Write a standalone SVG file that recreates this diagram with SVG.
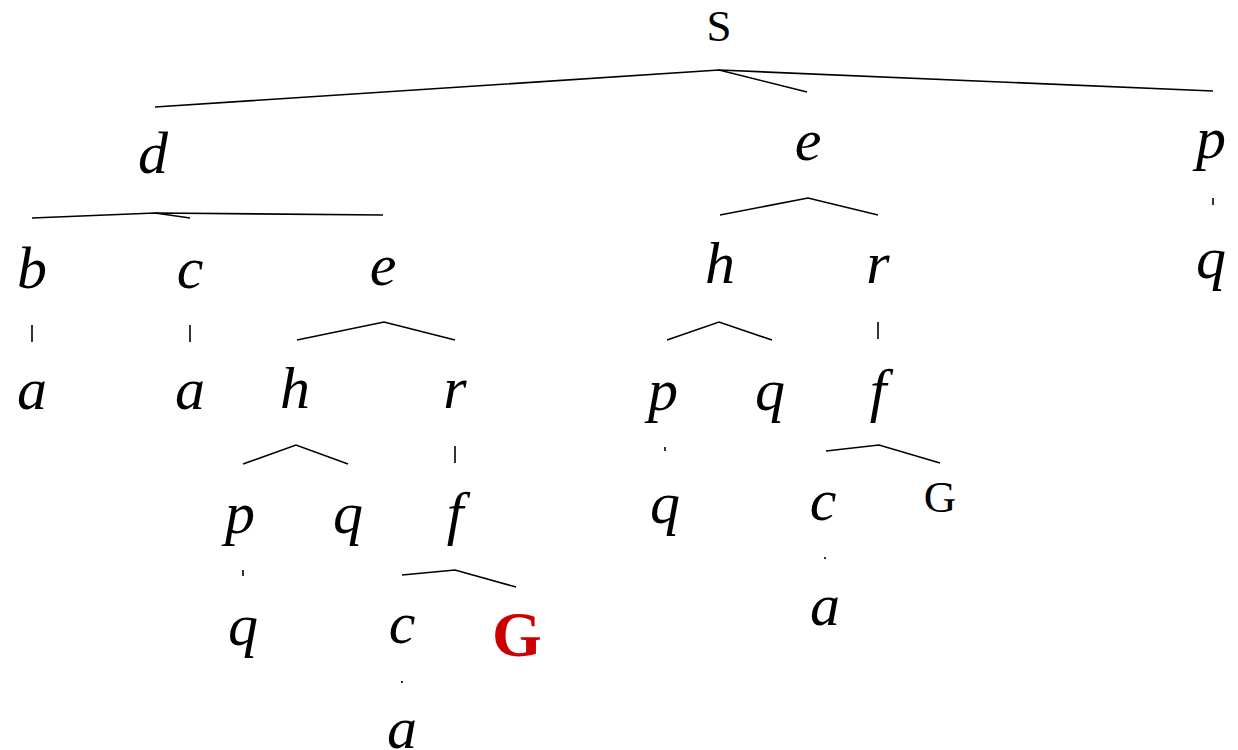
<svg xmlns="http://www.w3.org/2000/svg" width="1238" height="750" viewBox="0 0 1238 750">
<style>
.t{font-family:"Liberation Serif","Times New Roman",serif;font-style:italic;font-size:60px;text-anchor:middle;fill:#000}
.r{font-family:"Liberation Serif","Times New Roman",serif;font-size:45px;text-anchor:middle;fill:#000}
.g{font-family:"Liberation Serif","Times New Roman",serif;font-weight:bold;font-size:64px;text-anchor:middle;fill:#cc0000}
.e{fill:none;stroke:#000;stroke-width:1.6}
</style>
<rect width="1238" height="750" fill="#fff"/>
<g id="connectors">
<polyline class="e" points="155,107 719,70 1213,91"/>
<line class="e" x1="719" y1="70" x2="807" y2="92"/>
<polyline class="e" points="32,218 155,213 383,215"/>
<line class="e" x1="155" y1="213" x2="190" y2="218"/>
<line class="e" x1="32" y1="325" x2="32" y2="342"/>
<line class="e" x1="190" y1="325" x2="190" y2="342"/>
<polyline class="e" points="297,340 384,322 455,340"/>
<polyline class="e" points="243,464 296,445 348,464"/>
<line class="e" x1="455" y1="446" x2="455" y2="463"/>
<line class="e" x1="243" y1="570" x2="243" y2="576"/>
<polyline class="e" points="402,575 455,570 516,587"/>
<line class="e" x1="402" y1="681" x2="402" y2="683"/>
<polyline class="e" points="720,215 808,198 878,215"/>
<polyline class="e" points="667,340 719,322 772,340"/>
<line class="e" x1="878" y1="322" x2="878" y2="339"/>
<line class="e" x1="665" y1="447" x2="665" y2="451"/>
<polyline class="e" points="826,451 879,445 940,463"/>
<line class="e" x1="825" y1="557" x2="825" y2="559"/>
<line class="e" x1="1213" y1="198" x2="1213" y2="205"/>
</g>
<g id="n-S"><text class="r" x="719" y="41">S</text></g>
<g id="n-d"><text class="t" x="153" y="173">d</text></g>
<g id="n-e1"><text class="t" x="808" y="160">e</text></g>
<g id="n-p1"><text class="t" x="1211" y="158">p</text></g>
<g id="n-q1"><text class="t" x="1211" y="278">q</text></g>
<g id="n-b"><text class="t" x="32" y="288">b</text></g>
<g id="n-c1"><text class="t" x="190" y="288">c</text></g>
<g id="n-e2"><text class="t" x="383" y="285">e</text></g>
<g id="n-a1"><text class="t" x="32" y="409">a</text></g>
<g id="n-a2"><text class="t" x="190" y="409">a</text></g>
<g id="n-h1"><text class="t" x="295" y="408">h</text></g>
<g id="n-r1"><text class="t" x="455" y="408">r</text></g>
<g id="n-p2"><text class="t" x="240" y="533">p</text></g>
<g id="n-q2"><text class="t" x="348" y="533">q</text></g>
<g id="n-f1"><text class="t" x="455" y="533">f</text></g>
<g id="n-q3"><text class="t" x="243" y="645">q</text></g>
<g id="n-c2"><text class="t" x="402" y="643">c</text></g>
<g id="n-G1"><text class="g" x="517" y="656">G</text></g>
<g id="n-a3"><text class="t" x="402" y="748">a</text></g>
<g id="n-h2"><text class="t" x="720" y="283">h</text></g>
<g id="n-r2"><text class="t" x="878" y="283">r</text></g>
<g id="n-p3"><text class="t" x="663" y="410">p</text></g>
<g id="n-q4"><text class="t" x="770" y="410">q</text></g>
<g id="n-f2"><text class="t" x="878" y="410">f</text></g>
<g id="n-q5"><text class="t" x="665" y="523">q</text></g>
<g id="n-c3"><text class="t" x="823" y="520">c</text></g>
<g id="n-G2"><text class="r" x="940" y="512">G</text></g>
<g id="n-a4"><text class="t" x="825" y="625">a</text></g>
</svg>
